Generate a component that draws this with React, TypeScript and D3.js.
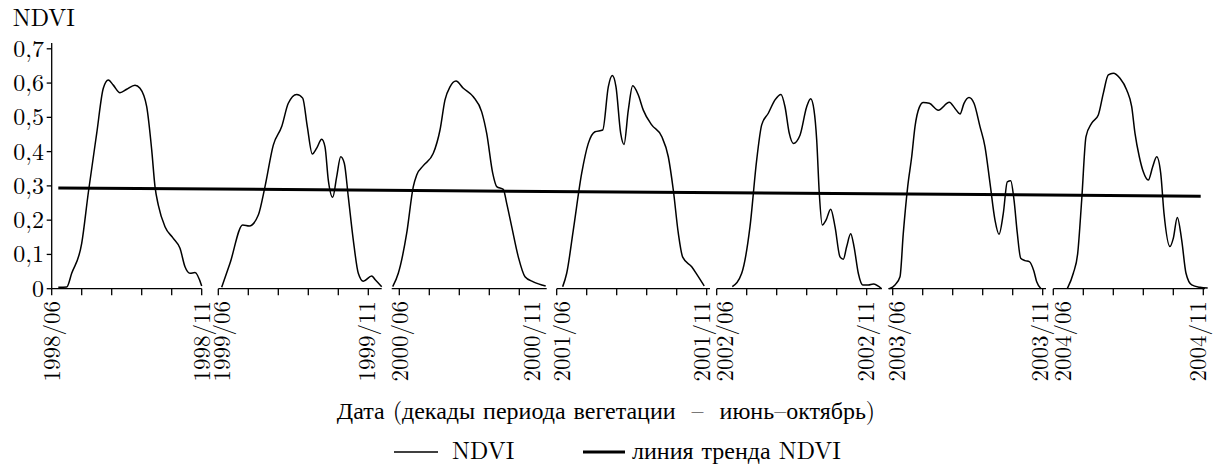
import React from 'react';
import * as d3 from 'd3';

// ---- data: [decade offset within the season segment, NDVI] ----
const ndvi1998: [number, number][] = [
  [0.66, 0.004], [1.5, 0.005], [2.0, 0.045], [3.0, 0.132], [3.66, 0.28], [4.5, 0.453],
  [5.16, 0.585], [5.66, 0.609], [6.16, 0.594], [6.83, 0.572], [7.5, 0.582], [8.33, 0.594],
  [8.83, 0.585], [9.5, 0.531], [10.0, 0.405], [10.33, 0.298], [10.66, 0.244], [11.33, 0.181],
  [12.16, 0.147], [12.83, 0.118], [13.33, 0.064], [13.83, 0.045], [14.33, 0.047], [15.0, 0.008],
];
const ndvi1999: [number, number][] = [
  [0.34, 0.004], [1.17, 0.074], [2.44, 0.186], [3.1, 0.183], [4.0, 0.215], [4.67, 0.298],
  [5.5, 0.419], [6.34, 0.473], [7.0, 0.541], [7.84, 0.567], [8.44, 0.556], [8.9, 0.473],
  [9.4, 0.393], [9.84, 0.41], [10.34, 0.436], [10.67, 0.414], [11.0, 0.317], [11.44, 0.267],
  [11.84, 0.327], [12.24, 0.385], [12.6, 0.366], [13.0, 0.268], [13.5, 0.142], [14.0, 0.045],
  [14.5, 0.022], [15.34, 0.037], [15.67, 0.027], [16.34, 0.006],
];
const ndvi2000: [number, number][] = [
  [0.1, 0.006], [0.66, 0.045], [1.5, 0.162], [2.16, 0.298], [2.5, 0.332], [3.16, 0.359],
  [4.16, 0.395], [4.83, 0.463], [5.33, 0.551], [5.83, 0.589], [6.43, 0.606], [7.16, 0.585],
  [8.16, 0.56], [9.0, 0.516], [9.5, 0.453], [10.1, 0.337], [10.5, 0.298], [11.16, 0.29],
  [11.5, 0.249], [12.0, 0.181], [12.66, 0.093], [13.33, 0.035], [14.16, 0.02], [15.4, 0.008],
];
const ndvi2001: [number, number][] = [
  [0.6, 0.006], [1.0, 0.045], [1.66, 0.171], [2.5, 0.337], [3.16, 0.424], [3.83, 0.458],
  [4.6, 0.463], [5.16, 0.589], [5.56, 0.622], [5.93, 0.589], [6.4, 0.453], [6.73, 0.421],
  [7.16, 0.521], [7.6, 0.592], [8.16, 0.565], [8.66, 0.521], [9.5, 0.478], [10.5, 0.444],
  [11.16, 0.385], [11.66, 0.288], [12.16, 0.162], [12.6, 0.092], [13.5, 0.064], [14.16, 0.035],
  [14.76, 0.008],
];
const ndvi2002: [number, number][] = [
  [1.56, 0.006], [2.5, 0.045], [3.33, 0.181], [4.0, 0.376], [4.5, 0.478], [5.16, 0.512],
  [5.83, 0.551], [6.43, 0.567], [6.83, 0.531], [7.26, 0.453], [7.66, 0.424], [8.33, 0.448],
  [9.0, 0.531], [9.4, 0.554], [9.73, 0.521], [10.0, 0.434], [10.26, 0.278], [10.56, 0.186],
  [10.93, 0.2], [11.4, 0.232], [11.83, 0.181], [12.33, 0.093], [12.66, 0.086], [13.0, 0.123],
  [13.4, 0.16], [13.73, 0.123], [14.16, 0.045], [14.6, 0.011], [15.16, 0.011], [15.66, 0.014],
  [16.5, 0.0],
];
const ndvi2003: [number, number][] = [
  [0.1, 0.0], [0.67, 0.011], [1.17, 0.035], [1.5, 0.162], [1.94, 0.298], [2.34, 0.385],
  [2.67, 0.473], [3.1, 0.529], [3.5, 0.543], [4.1, 0.541], [5.0, 0.521], [6.1, 0.544],
  [6.67, 0.526], [7.17, 0.51], [7.57, 0.541], [8.07, 0.558], [8.57, 0.541], [9.17, 0.473],
  [9.67, 0.414], [10.17, 0.308], [10.67, 0.2], [11.07, 0.159], [11.5, 0.22], [11.9, 0.312],
  [12.24, 0.315], [12.57, 0.259], [12.9, 0.162], [13.24, 0.089], [13.67, 0.082], [14.1, 0.079],
  [14.57, 0.05], [14.84, 0.02], [15.27, 0.0],
];
const ndvi2004: [number, number][] = [
  [1.4, 0.0], [2.0, 0.045], [2.44, 0.103], [2.84, 0.259], [3.27, 0.444], [3.84, 0.483],
  [4.5, 0.507], [5.0, 0.57], [5.5, 0.624], [6.0, 0.629], [6.67, 0.614], [7.34, 0.58],
  [7.84, 0.531], [8.17, 0.453], [8.6, 0.385], [9.0, 0.341], [9.5, 0.317], [9.94, 0.356],
  [10.34, 0.385], [10.74, 0.337], [11.07, 0.22], [11.67, 0.123], [12.0, 0.147], [12.4, 0.208],
  [12.84, 0.142], [13.27, 0.045], [13.84, 0.011], [14.67, 0.004], [15.44, 0.002],
];

const years = ['1998', '1999', '2000', '2001', '2002', '2003', '2004'];
const seasonSeries = [ndvi1998, ndvi1999, ndvi2000, ndvi2001, ndvi2002, ndvi2003, ndvi2004];
const startMonth = '06';
const endMonth = '11';
const trendValues = [0.294, 0.27];
const yTicks = [0, 0.1, 0.2, 0.3, 0.4, 0.5, 0.6, 0.7];
const yTickLabels = ['0', '0,1', '0,2', '0,3', '0,4', '0,5', '0,6', '0,7'];
const yTitle = 'NDVI';
const xTitle = 'Дата (декады периода вегетации  –  июнь–октябрь)';
const legendLabels = ['NDVI', 'линия тренда NDVI'];

// ---- layout (axis position units: decades) ----
const segments = [
  { lineStart: 0, lineEnd: 15, tick0: 0, ticks: 6, lab06: 0, lab11: 15 },
  { lineStart: 16.66, lineEnd: 33.0, tick0: 16.66, ticks: 6, lab06: 17.0, lab11: 31.56 },
  { lineStart: 34.0, lineEnd: 49.5, tick0: 34.76, ticks: 5, lab06: 34.83, lab11: 48.0 },
  { lineStart: 50.5, lineEnd: 65.83, tick0: 50.5, ticks: 6, lab06: 51.0, lab11: 65.0 },
  { lineStart: 66.5, lineEnd: 83.0, tick0: 66.5, ticks: 6, lab06: 67.33, lab11: 81.43 },
  { lineStart: 83.66, lineEnd: 99.43, tick0: 84.1, ticks: 6, lab06: 84.53, lab11: 98.83 },
  { lineStart: 100.16, lineEnd: 115.33, tick0: 100.16, ticks: 6, lab06: 101.13, lab11: 114.63 },
];
const trendSpan = [0.66, 114.9];

const W = 1213;
const H = 467;
const FONT = "'Latin Modern Roman', 'Liberation Serif'";
const txt: React.CSSProperties = { fontFamily: FONT, fontSize: 24 };
const tickTxt: React.CSSProperties = { fontFamily: FONT, fontSize: 23 };

export default function App() {
  const x = d3.scaleLinear().domain([0, 116]).range([51.7, 1211.7]);
  const y = d3.scaleLinear().domain([0, 0.7]).range([288.7, 48.8]);
  const axisY = y(0);

  const curves = seasonSeries.map((series, i) => {
    const seg = segments[i];
    const gen = d3
      .line<[number, number]>()
      .x((d) => x(seg.lineStart + d[0]))
      .y((d) => y(d[1]))
      .curve(d3.curveMonotoneX);
    return gen(series) || '';
  });

  const trendPath =
    d3
      .line<number>()
      .x((_, i) => x(trendSpan[i]))
      .y((d) => y(d))(trendValues) || '';

  return (
    <svg
      width={W}
      height={H}
      style={{ position: 'absolute', left: 0, top: 0, background: '#fff' }}
    >
      <rect width={W} height={H} fill="#fff" />
      {/* y axis */}
      <text x={12.7} y={25.5} style={txt} fill="#000">
        {yTitle}
      </text>
      <line x1={x(0)} x2={x(0)} y1={43} y2={axisY} stroke="#000" strokeWidth={1.3} />
      {yTicks.map((t, i) => (
        <g key={'yt' + i}>
          <line x1={x(0) - 5} x2={x(0)} y1={y(t)} y2={y(t)} stroke="#000" strokeWidth={1.3} />
          <text x={44} y={y(t) + 8} textAnchor="end" style={txt} fill="#000">
            {yTickLabels[i]}
          </text>
        </g>
      ))}

      {/* x axis segments */}
      {segments.map((seg, i) => (
        <g key={'seg' + i}>
          <line
            x1={x(seg.lineStart)}
            x2={x(seg.lineEnd)}
            y1={axisY}
            y2={axisY}
            stroke="#000"
            strokeWidth={1.3}
          />
          {d3.range(seg.ticks).map((k) => (
            <line
              key={k}
              x1={x(seg.tick0 + 3 * k)}
              x2={x(seg.tick0 + 3 * k)}
              y1={axisY}
              y2={axisY + 6.5}
              stroke="#000"
              strokeWidth={1.3}
            />
          ))}
          {[
            [seg.lab06, `${years[i]}/${startMonth}`],
            [seg.lab11, `${years[i]}/${endMonth}`],
          ].map(([pos, label], j) => (
            <text
              key={j}
              transform={`translate(${x(pos as number) + 8},${301}) rotate(-90)`}
              textAnchor="end"
              style={tickTxt}
              fill="#000"
            >
              {label}
            </text>
          ))}
        </g>
      ))}

      {/* NDVI curves */}
      {curves.map((d, i) => (
        <path key={'c' + i} d={d} fill="none" stroke="#000" strokeWidth={1.5} />
      ))}

      {/* trend */}
      <path d={trendPath} fill="none" stroke="#000" strokeWidth={3} />

      {/* x title */}
      <text x={606} y={419} textAnchor="middle" style={{ ...txt, whiteSpace: 'pre' }} fill="#000">
        {xTitle}
      </text>

      {/* legend */}
      <line x1={394} x2={438} y1={452} y2={452} stroke="#000" strokeWidth={1.5} />
      <text x={452} y={459} style={txt} fill="#000">
        {legendLabels[0]}
      </text>
      <line x1={583} x2={625} y1={452} y2={452} stroke="#000" strokeWidth={3} />
      <text x={632} y={459} style={txt} fill="#000">
        {legendLabels[1]}
      </text>
    </svg>
  );
}
